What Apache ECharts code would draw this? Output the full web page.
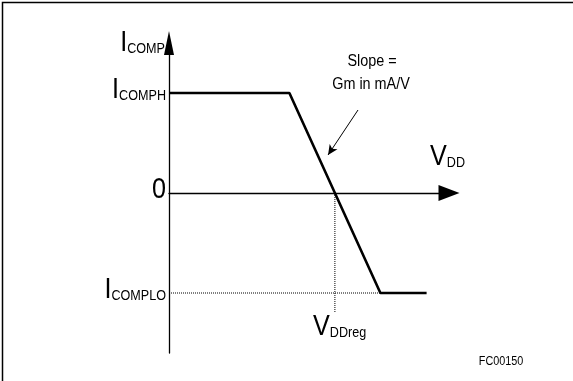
<!DOCTYPE html>
<html>
<head>
<meta charset="utf-8">
<script src="https://cdn.jsdelivr.net/npm/echarts@6/dist/echarts.min.js"></script>
<style>
  html, body { margin: 0; padding: 0; background: #fff; }
  #chart { width: 573px; height: 381px; }
</style>
</head>
<body>
<div id="chart"></div>
<script>
  // transfer curve: Icomp vs VDD (arbitrary units)
  const vddPoints = [0, 43, 75.5, 92];
  const icompPoints = [1, 1, -1, -1];
  const vddReg = 59.25;
  const levelValues = [1, 0, -1];
  const levelLabels = ['{i|I}{s|COMPH}', '{i|0}', '{i|I}{s|COMPLO}'];

  const font = 'Liberation Sans';
  const rich = {
    i: { fontFamily: font, fontSize: 30, color: '#000', verticalAlign: 'bottom' },
    s: { fontFamily: font, fontSize: 15, color: '#000', verticalAlign: 'bottom', padding: [0, 0, 2, 0] }
  };
  const squeeze = 0.84;

  const chart = echarts.init(document.getElementById('chart'));
  chart.setOption({
    animation: false,
    backgroundColor: '#fff',
    grid: { left: 169, top: 43, width: 280, height: 310 },
    xAxis: {
      type: 'value', min: 0, max: 100,
      axisLine: { onZero: true, lineStyle: { color: '#000', width: 1.3 },
        symbol: ['none', 'triangle'], symbolSize: [16, 21] },
      axisTick: { show: false }, axisLabel: { show: false }, splitLine: { show: false }
    },
    yAxis: {
      type: 'value', min: -1.6, max: 1.5,
      axisLine: { show: true, onZero: false, lineStyle: { color: '#000', width: 1.3 },
        symbol: ['none', 'triangle'], symbolSize: [10, 24] },
      axisTick: { show: false }, splitLine: { show: false }, axisLabel: { show: false }
    },
    series: [
      {
        type: 'line', data: vddPoints.map((v, i) => [v, icompPoints[i]]),
        symbol: 'none', lineStyle: { color: '#000', width: 2.6 }, z: 5
      },
      {
        type: 'line', data: [[0, icompPoints[3]], [vddPoints[2], icompPoints[3]]],
        symbol: 'none', lineStyle: { color: '#000', width: 1, type: [1, 1] }
      },
      {
        type: 'line', data: [[vddReg, 0], [vddReg, -1.2]],
        symbol: 'none', lineStyle: { color: '#000', width: 1, type: [1, 1] },
        markLine: {
          silent: true, symbol: ['none', 'arrow'], symbolSize: [7, 10],
          label: { show: false },
          lineStyle: { color: '#000', width: 1, type: 'solid' },
          data: [[{ coord: [67.5, 0.83] }, { coord: [56.8, 0.38] }]]
        }
      }
    ]
  });

  // level labels placed at the y-axis positions of their values
  const graphics = [
    { type: 'rect', shape: { x: 2.5, y: 2.5, width: 620, height: 420 },
      style: { fill: 'none', stroke: '#000', lineWidth: 1.5 } },
    { type: 'text', x: 165, y: 58, scaleX: squeeze, style: { text: '{i|I}{s|COMP}', rich: rich, align: 'right', verticalAlign: 'bottom' } },
    { type: 'text', x: 430, y: 172, scaleX: squeeze, style: { text: '{i|V}{s|DD}', rich: rich, verticalAlign: 'bottom' } },
    { type: 'text', x: 313, y: 342, scaleX: squeeze, style: { text: '{i|V}{s|DDreg}', rich: rich, verticalAlign: 'bottom' } },
    { type: 'text', x: 372, y: 62, scaleX: 0.9, style: { text: 'Slope =', fontFamily: font, fontSize: 16, fill: '#000', align: 'center', verticalAlign: 'middle' } },
    { type: 'text', x: 371, y: 85, scaleX: 0.9, style: { text: 'Gm in mA/V', fontFamily: font, fontSize: 16, fill: '#000', align: 'center', verticalAlign: 'middle' } },
    { type: 'text', x: 501, y: 362, scaleX: 0.9, style: { text: 'FC00150', fontFamily: font, fontSize: 12, fill: '#000', align: 'center', verticalAlign: 'middle' } }
  ];
  levelValues.forEach(function (v, k) {
    const p = chart.convertToPixel({ gridIndex: 0 }, [0, v]);
    graphics.push({
      type: 'text', x: p[0] - 3, y: p[1] + 12, scaleX: squeeze,
      style: { text: levelLabels[k], rich: rich, align: 'right', verticalAlign: 'bottom' }
    });
  });
  chart.setOption({ graphic: graphics });
</script>
</body>
</html>
